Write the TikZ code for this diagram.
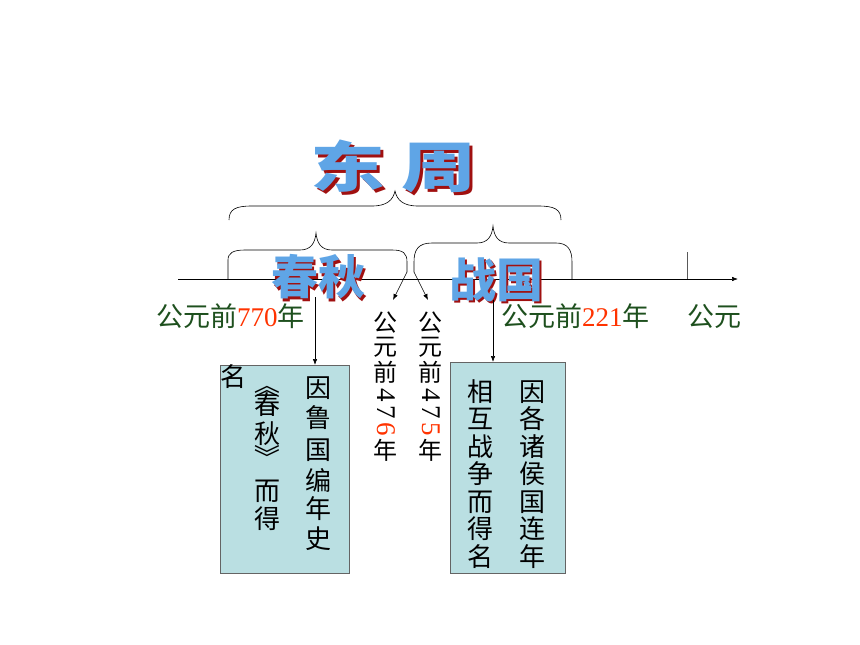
\documentclass[tikz,border=0pt]{standalone}
\usepackage{fontspec}
\setmainfont{Liberation Serif}
\newfontfamily\cjk{Noto Sans CJK SC}
\usetikzlibrary{arrows.meta}
\definecolor{dgreen}{RGB}{30,80,30}
\definecolor{dred}{RGB}{255,51,0}
\definecolor{boxfill}{RGB}{186,223,226}
\definecolor{boxline}{RGB}{100,100,100}
\definecolor{shadowred}{RGB}{160,16,16}
\definecolor{titleblue}{RGB}{95,165,230}
\tikzset{
  brace/.style={draw=black, line width=0.6pt},
  infobox/.style={draw=boxline, fill=boxfill, line width=0.8pt},
  arr/.style={draw=black, line width=0.6pt, -{Latex[length=6pt,width=4.5pt]}},
  lbl/.style={inner sep=0pt, font=\fontsize{27}{27}\selectfont, text=dgreen},
  vch/.style={inner sep=0pt, font=\cjk\fontsize{24}{24}\selectfont},
  vdig/.style={inner sep=0pt, font=\fontsize{27}{27}\selectfont},
  bch/.style={inner sep=0pt, font=\cjk\fontsize{26}{26}\selectfont},
  fancytxt/.style={inner sep=0pt},
}
% shadowed text: #1 = horizontal scale, #2 = size, #3 = text
\newcommand{\shadowed}[3]{%
  \cjk\bfseries\fontsize{#2}{#2}\selectfont
  \scalebox{#1}[1]{\makebox[0pt][l]{\hspace{2.5pt}\raisebox{-2.5pt}{\textcolor{shadowred}{#3}}}\textcolor{titleblue}{#3}}}
\begin{document}
\begin{tikzpicture}[x=1pt,y=-1pt]
\useasboundingbox (0,0) rectangle (860,645);
% axis
\coordinate (axL) at (178,279);
\coordinate (axR) at (738,279);
\draw[arr] (axL) -- (axR);
\coordinate (tickT) at (687,252);
\coordinate (tickB) at (687,279);
\draw[draw=gray!70!black, line width=0.8pt] (tickT) -- (tickB);
% top brace
\draw[brace] (229,220) .. controls (229,209) and (236,206) .. (252,206) -- (372,206)
  .. controls (387,206) and (393,200) .. (395,191)
  .. controls (397,200) and (403,206) .. (418,206) -- (538,206)
  .. controls (554,206) and (561,209) .. (561,220);
% chunqiu brace
\draw[brace] (228,279) -- (228,260) .. controls (228,253) and (233,250) .. (245,250) -- (300,250)
  .. controls (311,250) and (315,243) .. (316,233)
  .. controls (317,243) and (321,250) .. (332,250) -- (392,250)
  .. controls (403,250) and (407,253) .. (407,262) -- (407,272);
% zhanguo brace
\draw[brace] (414,272) -- (414,262) .. controls (414,250) and (418,243) .. (432,243) -- (477,243)
  .. controls (488,243) and (492,236) .. (493,226)
  .. controls (494,236) and (498,243) .. (509,243) -- (556,243)
  .. controls (568,243) and (572,250) .. (572,262) -- (572,279);
% arrows to dates
\coordinate (a1s) at (407,272);
\coordinate (a1e) at (393,300);
\coordinate (a2s) at (414,272);
\coordinate (a2e) at (428,300);
\draw[arr] (a1s) -- (a1e);
\draw[arr] (a2s) -- (a2e);
% titles
\node[fancytxt] (dongzhou) at (393,168) {\shadowed{1.36}{55}{东\hspace{12pt}周}};
\node[fancytxt] (chunqiu) at (318,278) {\shadowed{1}{47}{春秋}};
\node[fancytxt] (zhanguo) at (496,281) {\shadowed{1}{47}{战国}};
% horizontal labels
\node[lbl, anchor=west] (l770) at (156,316) {{\cjk 公元前}\textcolor{dred}{770}{\cjk 年}};
\node[lbl, anchor=west] (l221) at (501,316) {{\cjk 公元前}\textcolor{dred}{221}{\cjk 年}};
\node[lbl, anchor=west] (lgy) at (687,316) {{\cjk 公元}};
% vertical labels 476
\node[vch] (v1a) at (385,323) {公};
\node[vch] (v1b) at (385,347) {元};
\node[vch] (v1c) at (385,372) {前};
\node[vdig, rotate=-90] (v1d) at (386,395) {4};
\node[vdig, rotate=-90] (v1e) at (386,412) {7};
\node[vdig, rotate=-90, text=dred] (v1f) at (386,429) {6};
\node[vch] (v1g) at (385,450) {年};
% vertical labels 475
\node[vch] (v2a) at (430,323) {公};
\node[vch] (v2b) at (430,347) {元};
\node[vch] (v2c) at (430,372) {前};
\node[vdig, rotate=-90] (v2d) at (431,395) {4};
\node[vdig, rotate=-90] (v2e) at (431,412) {7};
\node[vdig, rotate=-90, text=dred] (v2f) at (431,429) {5};
\node[vch] (v2g) at (430,450) {年};
% boxes
\node[infobox, minimum width=129pt, minimum height=208pt, inner sep=0pt, anchor=north west] (box1) at (220,365) {};
\node[infobox, minimum width=115pt, minimum height=211pt, inner sep=0pt, anchor=north west] (box2) at (450,362) {};
\coordinate (d1s) at (315,297);
\coordinate (d2s) at (493,300);
\draw[arr] (d1s) -- (box1.north -| d1s);
\draw[arr] (d2s) -- (box2.north -| d2s);
% box1 text
\node[bch] (b1a) at (318,388) {因};
\node[bch] (b1b) at (318,418) {鲁};
\node[bch] (b1c) at (318,450) {国};
\node[bch] (b1d) at (318,480) {编};
\node[bch] (b1e) at (318,509) {年};
\node[bch] (b1f) at (318,539) {史};
\node[bch, rotate=-90] (b2a) at (267,385) {《};
\node[bch] (b2b) at (267,405) {春};
\node[bch] (b2c) at (267,434) {秋};
\node[bch, rotate=-90] (b2d) at (267,457) {》};
\node[bch] (b2e) at (267,491) {而};
\node[bch] (b2f) at (267,519) {得};
\node[bch] (b3a) at (233,377) {名};
% box2 text
\node[bch] (c1a) at (532,392) {因};
\node[bch] (c1b) at (532,419) {各};
\node[bch] (c1c) at (532,447) {诸};
\node[bch] (c1d) at (532,474) {侯};
\node[bch] (c1e) at (532,502) {国};
\node[bch] (c1f) at (532,529) {连};
\node[bch] (c1g) at (532,557) {年};
\node[bch] (c2a) at (480,392) {相};
\node[bch] (c2b) at (480,419) {互};
\node[bch] (c2c) at (480,447) {战};
\node[bch] (c2d) at (480,474) {争};
\node[bch] (c2e) at (480,502) {而};
\node[bch] (c2f) at (480,529) {得};
\node[bch] (c2g) at (480,557) {名};
\end{tikzpicture}
\end{document}
